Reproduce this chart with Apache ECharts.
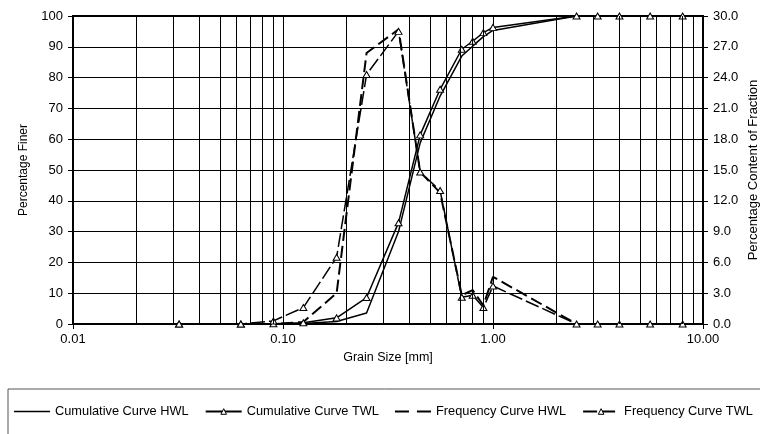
<!DOCTYPE html>
<html>
<head>
<meta charset="utf-8">
<script src="https://cdn.jsdelivr.net/npm/echarts@6/dist/echarts.min.js"></script>
<style>
  html, body { margin: 0; padding: 0; background: #fff; }
  #chart { width: 760px; height: 434px; }
</style>
</head>
<body>
<div id="chart"></div>
<script>
// sieve sizes [mm]
const grainSize = [0.032, 0.063, 0.09, 0.125, 0.18, 0.25, 0.355, 0.45, 0.56, 0.71, 0.8, 0.9, 1.0, 2.5, 3.15, 4.0, 5.6, 8.0];
// cumulative curves [% finer]
const cumHWL = [0, 0, 0, 0.2, 0.8, 3.6, 30.0, 58.8, 74.0, 87.0, 90.2, 93.3, 95.3, 100, 100, 100, 100, 100];
const cumTWL = [0, 0, 0.1, 0.4, 2.0, 8.6, 32.9, 61.4, 76.2, 89.2, 91.8, 94.6, 96.3, 100, 100, 100, 100, 100];
// frequency curves [% content of fraction]
const freqHWL = [0, 0, 0, 0.2, 3.0, 26.4, 28.7, 14.8, 12.8, 2.8, 3.3, 1.8, 4.6, 0, 0, 0, 0, 0];
const freqTWL = [0, 0, 0.3, 1.6, 6.5, 24.3, 28.5, 14.8, 13.0, 2.6, 2.8, 1.6, 3.7, 0, 0, 0, 0, 0];
// log grid lines between decades
const minorGrid = [0.02, 0.03, 0.04, 0.05, 0.06, 0.07, 0.08, 0.09,
  0.2, 0.3, 0.4, 0.5, 0.6, 0.7, 0.8, 0.9,
  2, 3, 4, 5, 6, 7, 8, 9];

const font = '"Liberation Sans", Arial, sans-serif';
const pairs = (vals) => grainSize.map((x, i) => [x, vals[i]]);

const triangle = {
  symbol: 'triangle',
  symbolSize: [7, 6],
  showSymbol: true,
  itemStyle: { color: '#fff', borderColor: '#000', borderWidth: 1 }
};

const chart = echarts.init(document.getElementById('chart'), null, { renderer: 'canvas' });
const option = {
  animation: false,
  backgroundColor: '#fff',
  textStyle: { fontFamily: font, color: '#000' },
  grid: {
    left: 73, right: 57, top: 16, bottom: 110,
    outerBoundsMode: 'none', containLabel: false,
    show: true, borderColor: '#000', borderWidth: 2, backgroundColor: '#fff'
  },
  legend: {
    left: 8, top: 389, width: 780,
    padding: [16, 30, 40, 6],
    borderColor: '#555', borderWidth: 1,
    itemWidth: 36, itemHeight: 7, itemGap: 16,
    itemStyle: { borderWidth: 1 },
    textStyle: { fontFamily: font, fontSize: 12.8, color: '#000' },
    data: [
      { name: 'Cumulative Curve HWL', icon: 'path://M0,0H36V1.5H0Z' },
      'Cumulative Curve TWL',
      { name: 'Frequency Curve HWL', icon: 'path://M0,0H14V2H0Z M22,0H36V2H22Z' },
      'Frequency Curve TWL'
    ]
  },
  xAxis: {
    type: 'log', logBase: 10, min: 0.01, max: 10,
    name: 'Grain Size [mm]', nameLocation: 'middle', nameGap: 27, nameMoveOverlap: false,
    nameTextStyle: { fontFamily: font, fontSize: 12.5, color: '#000' },
    axisLine: { show: true, lineStyle: { color: '#000', width: 2 } },
    axisTick: { show: true, length: 5, lineStyle: { color: '#000' } },
    axisLabel: { fontFamily: font, fontSize: 13, color: '#000', margin: 9, formatter: v => v.toFixed(2) },
    splitLine: { show: true, lineStyle: { color: '#000', width: 1 } }
  },
  yAxis: [{
    type: 'value', min: 0, max: 100, interval: 10,
    name: 'Percentage Finer', nameLocation: 'middle', nameGap: 43, nameMoveOverlap: false,
    nameTextStyle: { fontFamily: font, fontSize: 12, color: '#000' },
    axisLine: { show: true, lineStyle: { color: '#000', width: 2 } },
    axisTick: { show: true, length: 5, lineStyle: { color: '#000' } },
    axisLabel: { fontFamily: font, fontSize: 13, color: '#000', margin: 10 },
    splitLine: { show: true, lineStyle: { color: '#000', width: 1 } }
  }, {
    type: 'value', min: 0, max: 30, interval: 3, position: 'right',
    name: 'Percentage Content of Fraction', nameLocation: 'middle', nameGap: 44, nameMoveOverlap: false,
    nameTextStyle: { fontFamily: font, fontSize: 13, color: '#000' },
    axisLine: { show: true, lineStyle: { color: '#000', width: 2 } },
    axisTick: { show: true, length: 5, lineStyle: { color: '#000' } },
    axisLabel: { fontFamily: font, fontSize: 13, color: '#000', margin: 10, formatter: v => v.toFixed(1) },
    splitLine: { show: false }
  }],
  series: [{
    name: 'grid',
    type: 'line',
    data: [],
    z: 1,
    silent: true,
    markLine: {
      silent: true,
      symbol: ['none', 'none'],
      label: { show: false },
      animation: false,
      lineStyle: { color: '#000', width: 1, type: 'solid' },
      data: minorGrid.map(v => ({ xAxis: v }))
    }
  }, {
    name: 'Cumulative Curve HWL',
    type: 'line', z: 3,
    symbol: 'none',
    lineStyle: { color: '#000', width: 1.5 },
    itemStyle: { color: '#000' },
    data: pairs(cumHWL)
  }, {
    name: 'Cumulative Curve TWL',
    type: 'line', z: 4,
    ...triangle,
    lineStyle: { color: '#000', width: 1.5 },
    data: pairs(cumTWL)
  }, {
    name: 'Frequency Curve HWL',
    type: 'line', z: 3, yAxisIndex: 1,
    symbol: 'none',
    lineStyle: { color: '#000', width: 2, type: [12, 5] },
    itemStyle: { color: '#000' },
    data: pairs(freqHWL)
  }, {
    name: 'Frequency Curve TWL',
    type: 'line', z: 4, yAxisIndex: 1,
    ...triangle,
    lineStyle: { color: '#000', width: 1.5, type: [14, 4] },
    data: pairs(freqTWL)
  }]
};
chart.setOption(option);
</script>
</body>
</html>
